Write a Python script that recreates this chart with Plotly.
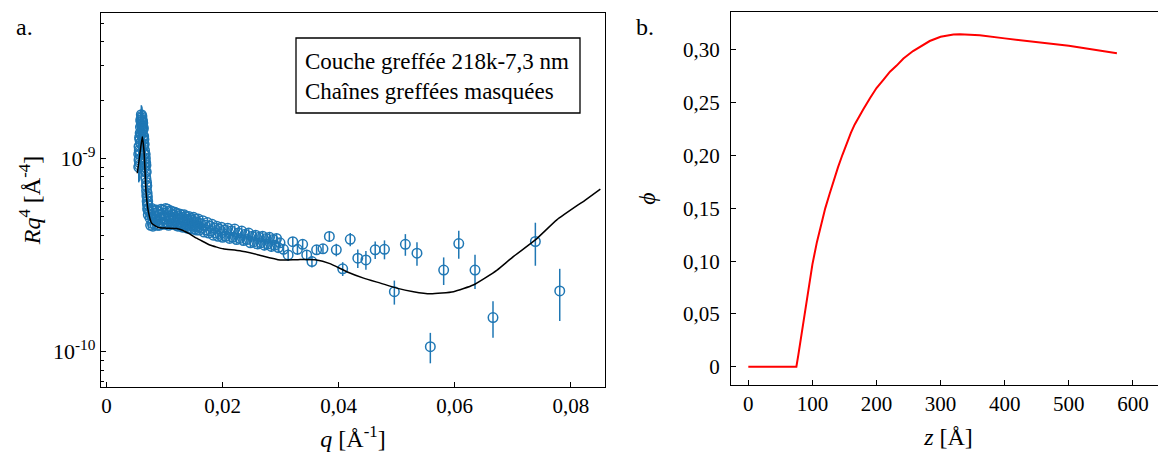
"""
Reflectivité (Rq^4) d'une couche greffée et profil de fraction volumique phi(z).
"""

import numpy as np
import plotly.graph_objects as go

# --- a. données expérimentales (q en Å^-1, R q^4 et erreurs en unités de 1e-10 Å^-4)
q_data = [
    # pic
    0.00555, 0.00555, 0.00560, 0.00560, 0.00565, 0.00565, 0.00570, 0.00570,
    0.00575, 0.00575, 0.00580, 0.00580, 0.00585, 0.00585, 0.00590, 0.00590,
    0.00595, 0.00595, 0.00600, 0.00600, 0.00605, 0.00605, 0.00610, 0.00610,
    0.00615, 0.00615, 0.00620, 0.00620, 0.00625, 0.00625, 0.00630, 0.00630,
    0.00635, 0.00635, 0.00640, 0.00640, 0.00645, 0.00645, 0.00650, 0.00650,
    0.00655, 0.00655, 0.00660, 0.00660, 0.00665, 0.00665, 0.00670, 0.00670,
    0.00675, 0.00675, 0.00680, 0.00680, 0.00685, 0.00685, 0.00690, 0.00690,
    0.00695, 0.00695, 0.00700, 0.00700, 0.00705, 0.00705, 0.00710, 0.00710,
    0.00715, 0.00715, 0.00720, 0.00720,
    # plateau
    0.0074, 0.0076, 0.0078, 0.0080, 0.0082, 0.0084, 0.0086, 0.0088,
    0.0090, 0.0092, 0.0094, 0.0096, 0.0098, 0.0100, 0.0102, 0.0104,
    0.0106, 0.0108, 0.0110, 0.0112, 0.0114, 0.0116, 0.0118, 0.0120,
    0.0122, 0.0124, 0.0126, 0.0128, 0.0130, 0.0132, 0.0134, 0.0136,
    0.0138, 0.0140, 0.0142, 0.0144, 0.0146, 0.0148, 0.0150, 0.0152,
    0.0154, 0.0156, 0.0158, 0.0160, 0.0162, 0.0164, 0.0166, 0.0168,
    0.0170, 0.0172, 0.0174, 0.0176, 0.0178, 0.0180, 0.0182, 0.0184,
    0.0186, 0.0188, 0.0190, 0.0192, 0.0194, 0.0196, 0.0198, 0.0200,
    0.0203, 0.0206, 0.0209, 0.0212, 0.0215, 0.0218, 0.0221, 0.0224,
    0.0227, 0.0230, 0.0233, 0.0236, 0.0239, 0.0242, 0.0245, 0.0248,
    0.0251, 0.0254, 0.0257, 0.0260, 0.0263, 0.0266, 0.0269, 0.0272,
    0.0275, 0.0278, 0.0281, 0.0284, 0.0287, 0.0290, 0.0293, 0.0296,
    0.0299, 0.0305, 0.0313, 0.0321, 0.0329, 0.0338,
    # grands q
    0.0345, 0.0354, 0.0362, 0.0373, 0.0384, 0.0396, 0.0407, 0.0420, 0.0433,
    0.0447, 0.0463, 0.0479, 0.0496, 0.0515, 0.0535, 0.0558, 0.0581, 0.0607,
    0.0635, 0.0666, 0.0739, 0.0781,
]
r_data = [
    9.0, 10.5, 9.8, 11.5, 11.0, 9.2, 9.5, 12.8,
    12.5, 10.8, 10.5, 13.5, 14.5, 12.0, 12.0, 15.8,
    15.5, 13.2, 13.5, 16.8, 16.2, 14.8, 14.5, 16.5,
    15.8, 13.8, 14.0, 15.5, 15.2, 12.5, 13.0, 14.5,
    14.2, 11.8, 11.5, 13.0, 12.5, 10.5, 10.5, 11.8,
    11.0, 9.5, 10.5, 9.8, 9.0, 10.5, 10.0, 8.5,
    8.0, 9.5, 9.2, 7.8, 7.2, 8.5, 7.5, 6.8,
    6.4, 7.2, 6.6, 6.0, 5.8, 6.3, 6.0, 5.5,
    5.4, 5.7, 5.5, 5.1,
    5.3, 4.5, 5.5, 4.45, 5.2, 4.8, 5.4, 4.5,
    5.1, 4.7, 5.45, 4.6, 5.2, 4.85, 5.5, 4.6,
    5.3, 4.75, 5.35, 4.55, 5.1, 4.8, 5.25, 4.5,
    5.0, 4.65, 5.15, 4.45, 4.95, 4.6, 5.1, 4.4,
    4.85, 4.55, 5.0, 4.35, 4.8, 4.5, 4.95, 4.3,
    4.7, 4.45, 4.85, 4.25, 4.6, 4.35, 4.75, 4.15,
    4.5, 4.25, 4.65, 4.1, 4.45, 4.2, 4.55, 4.0,
    4.35, 4.1, 4.45, 3.95, 4.3, 4.05, 4.4, 3.9,
    4.25, 3.95, 4.35, 3.85, 4.2, 3.9, 4.3, 3.8,
    4.1, 3.85, 4.2, 3.75, 4.05, 3.8, 4.1, 3.65,
    3.95, 3.7, 4.0, 3.6, 3.9, 3.65, 3.95, 3.55,
    3.85, 3.6, 3.9, 3.5, 3.8, 3.55, 3.85, 3.45,
    3.65, 3.38, 3.16, 3.70, 3.38, 3.59,
    3.16, 2.92, 3.36, 3.40, 3.94, 3.36, 2.68, 3.81, 3.04,
    2.98, 3.36, 3.38, 2.04, 3.59, 3.23, 1.06, 2.64, 3.62,
    2.64, 1.50, 3.71, 2.06,
]
r_err = [
    1.5, 1.6, 1.6, 1.7, 1.7, 1.6, 1.6, 1.8,
    1.8, 1.7, 1.7, 1.9, 1.9, 1.8, 1.8, 2.0,
    2.0, 1.9, 1.9, 2.0, 2.0, 1.9, 1.9, 2.0,
    2.0, 1.9, 1.9, 1.9, 1.9, 1.8, 1.8, 1.8,
    1.8, 1.6, 1.6, 1.7, 1.6, 1.5, 1.4, 1.5,
    1.4, 1.3, 1.3, 1.2, 1.2, 1.3, 1.2, 1.1,
    1.0, 1.1, 1.0, 0.9, 0.9, 0.9, 0.9, 0.8,
    0.8, 0.8, 0.8, 0.7, 0.7, 0.7, 0.7, 0.6,
    0.6, 0.6, 0.6, 0.5,
    0.10, 0.10, 0.10, 0.10, 0.10, 0.10, 0.10, 0.10,
    0.10, 0.10, 0.10, 0.10, 0.10, 0.10, 0.11, 0.11,
    0.11, 0.11, 0.11, 0.11, 0.11, 0.11, 0.12, 0.12,
    0.12, 0.12, 0.12, 0.12, 0.13, 0.13, 0.13, 0.13,
    0.13, 0.13, 0.14, 0.14, 0.14, 0.14, 0.14, 0.14,
    0.15, 0.15, 0.15, 0.15, 0.15, 0.15, 0.16, 0.16,
    0.16, 0.16, 0.16, 0.16, 0.17, 0.17, 0.17, 0.17,
    0.17, 0.17, 0.18, 0.18, 0.18, 0.18, 0.18, 0.18,
    0.18, 0.18, 0.19, 0.19, 0.19, 0.19, 0.19, 0.19,
    0.19, 0.19, 0.20, 0.20, 0.20, 0.20, 0.20, 0.20,
    0.20, 0.20, 0.21, 0.21, 0.21, 0.21, 0.21, 0.21,
    0.21, 0.21, 0.22, 0.22, 0.22, 0.22, 0.22, 0.22,
    0.22, 0.22, 0.22, 0.22, 0.22, 0.22,
    0.2, 0.2, 0.2, 0.2, 0.25, 0.25, 0.22, 0.30, 0.33,
    0.33, 0.35, 0.38, 0.29, 0.46, 0.45, 0.19, 0.43, 0.60,
    0.53, 0.32, 0.93, 0.62,
]

# --- a. seconde série (recouvrement) sur le début du plateau
q_data2 = [
    0.0075, 0.0077, 0.0079, 0.0081, 0.0083, 0.0085, 0.0087, 0.0089,
    0.0091, 0.0093, 0.0095, 0.0097, 0.0099, 0.0101, 0.0103, 0.0105,
    0.0107, 0.0109, 0.0111, 0.0113, 0.0115, 0.0117, 0.0119, 0.0121,
    0.0123, 0.0125, 0.0127, 0.0129, 0.0131, 0.0133, 0.0135, 0.0137,
    0.0139, 0.0141, 0.0143, 0.0145, 0.0147, 0.0149, 0.0151, 0.0153,
    0.0155, 0.0157, 0.0159,
]
r_data2 = [
    4.9, 5.1, 4.6, 5.35, 4.55, 5.0, 4.75, 5.3,
    4.5, 5.15, 4.9, 5.4, 4.55, 5.05, 4.7, 5.45,
    4.5, 5.0, 4.85, 5.3, 4.6, 4.95, 4.7, 5.2,
    4.45, 4.9, 4.6, 5.1, 4.4, 4.85, 4.55, 5.0,
    4.35, 4.75, 4.5, 4.9, 4.3, 4.7, 4.45, 4.85,
    4.25, 4.65, 4.4,
]
r_err2 = [0.12] * len(q_data2)

# --- a. modèle ajusté
q_model = [
    0.00530, 0.00566, 0.00617, 0.00647, 0.00664, 0.00681, 0.00721, 0.00779,
    0.00894, 0.01038, 0.0121, 0.0132, 0.0144, 0.0155, 0.0167, 0.0178,
    0.0190, 0.0201, 0.0230, 0.0259, 0.0299, 0.0330, 0.0362, 0.0385,
    0.0414, 0.0443, 0.0472, 0.0500, 0.0529, 0.0558, 0.0598, 0.0632,
    0.0652, 0.0673, 0.0701, 0.0739, 0.0776, 0.0825, 0.0851,
]
r_model = [
    8.36, 10.0, 12.9, 10.8, 8.53, 6.72, 5.30, 4.61,
    4.38, 4.35, 4.33, 4.23, 4.05, 3.86, 3.70, 3.56,
    3.47, 3.40, 3.32, 3.18, 2.98, 2.99, 2.98, 2.85,
    2.59, 2.40, 2.26, 2.13, 2.04, 1.99, 2.04, 2.21,
    2.40, 2.64, 3.10, 3.78, 4.80, 6.08, 6.92,
]

# --- b. profil de fraction volumique
z_prof = [0, 75, 78, 83, 91, 100, 107, 114, 120, 127, 133, 140, 147, 153,
          160, 166, 173, 179, 190, 200, 211, 221, 231, 242, 257, 273, 283,
          300, 309, 320, 330, 345, 361, 400, 439, 500, 575]
phi_prof = [0, 0, 0.011, 0.030, 0.062, 0.097, 0.118, 0.135, 0.150, 0.164,
            0.176, 0.189, 0.201, 0.211, 0.2215, 0.2295, 0.2375, 0.2435,
            0.2545, 0.264, 0.272, 0.2795, 0.285, 0.292, 0.299, 0.305, 0.3085,
            0.3125, 0.3137, 0.3146, 0.315, 0.3148, 0.314, 0.311, 0.3085,
            0.304, 0.297]

q_ticks = [0, 0.02, 0.04, 0.06, 0.08]
q_ticktext = ["0", "0,02", "0,04", "0,06", "0,08"]
phi_ticks = [0, 0.05, 0.10, 0.15, 0.20, 0.25, 0.30]
phi_ticktext = ["0", "0,05", "0,10", "0,15", "0,20", "0,25", "0,30"]
legend_lines = ["Couche greffée 218k-7,3 nm", "Chaînes greffées masquées"]

SERIF = "Times New Roman, Liberation Serif, DejaVu Serif, serif"
BLUE = "#1f77b4"
W, H = 1166, 454
OFF = 8  # décalage de la page (marge du body)


def px_x(p):
    return (p - OFF) / W


def px_y(p):
    return 1 - (p - OFF) / H


def data_trace(q, r, err):
    return go.Scatter(
        x=q, y=np.array(r) * 1e-10,
        mode="markers",
        marker=dict(symbol="circle-open", size=9.5, color=BLUE, line=dict(width=1.5, color=BLUE)),
        error_y=dict(type="data", array=np.array(err) * 1e-10, color=BLUE, thickness=1.5, width=0),
        xaxis="x", yaxis="y", showlegend=False,
    )


fig = go.Figure()
fig.add_trace(data_trace(q_data, r_data, r_err))
fig.add_trace(data_trace(q_data2, r_data2, r_err2))
fig.add_trace(go.Scatter(
    x=q_model, y=np.array(r_model) * 1e-10,
    mode="lines", line=dict(color="black", width=1.5, shape="spline", smoothing=0.5),
    xaxis="x", yaxis="y", showlegend=False,
))
fig.add_trace(go.Scatter(
    x=z_prof, y=phi_prof,
    mode="lines", line=dict(color="#ff0000", width=2),
    xaxis="x2", yaxis="y2", showlegend=False,
))

axis_common = dict(
    showline=True, linecolor="black", linewidth=1.3, mirror=True,
    ticks="inside", ticklen=5, tickwidth=1.2, tickcolor="black",
    showgrid=False, zeroline=False,
    tickfont=dict(family=SERIF, size=21, color="black"),
)
title_font = dict(family=SERIF, size=24, color="black")

minor_log = [k * 10.0 ** e for e in (-11, -10, -9) for k in range(2, 10)]

fig.update_layout(
    width=W, height=H,
    margin=dict(l=0, r=0, t=0, b=0),
    paper_bgcolor="white", plot_bgcolor="white",
    font=dict(family=SERIF, size=21, color="black"),
    xaxis=dict(
        axis_common, domain=[px_x(101), px_x(605)], range=[-0.00095, 0.0859],
        tickvals=q_ticks, ticktext=q_ticktext, anchor="y",
        title=dict(text="<i>q</i> [Å<sup>-1</sup>]", font=title_font, standoff=12),
    ),
    yaxis=dict(
        axis_common, domain=[px_y(387), px_y(13)], type="log", range=[-10.183, -8.249],
        tickvals=[1e-10, 1e-9], ticktext=["10<sup>-10</sup>", "10<sup>-9</sup>"],
        tickfont=dict(family=SERIF, size=22, color="black"),
        minor=dict(tickvals=minor_log, ticks="inside", ticklen=3, tickcolor="black", tickwidth=1.2),
        anchor="x",
        title=dict(text="<i>Rq</i><sup>4</sup> [Å<sup>-4</sup>]", font=title_font, standoff=5),
    ),
    xaxis2=dict(
        axis_common, domain=[px_x(731), px_x(1166)], range=[-27, 651.6],
        tickvals=[0, 100, 200, 300, 400, 500, 600], anchor="y2",
        title=dict(text="<i>z</i> [Å]", font=title_font, standoff=12),
    ),
    yaxis2=dict(
        axis_common, domain=[px_y(385), px_y(12.3)], range=[-0.0173, 0.3357],
        tickvals=phi_ticks, ticktext=phi_ticktext, anchor="x2", ticklabelstandoff=6,
        title=dict(text="<i>ϕ</i>", font=title_font, standoff=20),
    ),
)

# cadre de légende et son texte
fig.add_shape(type="rect", xref="paper", yref="paper",
              x0=px_x(296), x1=px_x(580), y0=px_y(113), y1=px_y(38),
              line=dict(color="black", width=1.3), fillcolor="white", layer="above")
for i, txt in enumerate(legend_lines):
    fig.add_annotation(text=txt, xref="paper", yref="paper",
                       x=px_x(303), y=px_y(61.7 + 30 * i), xanchor="left", yanchor="middle",
                       showarrow=False, font=dict(family=SERIF, size=23, color="black"))

# étiquettes des panneaux
for lab, xp in (("a.", 14), ("b.", 634)):
    fig.add_annotation(text=lab, xref="paper", yref="paper", x=px_x(xp), y=px_y(27),
                       xanchor="left", yanchor="middle", showarrow=False,
                       font=dict(family=SERIF, size=24, color="black"))

fig.write_html("out.html")
